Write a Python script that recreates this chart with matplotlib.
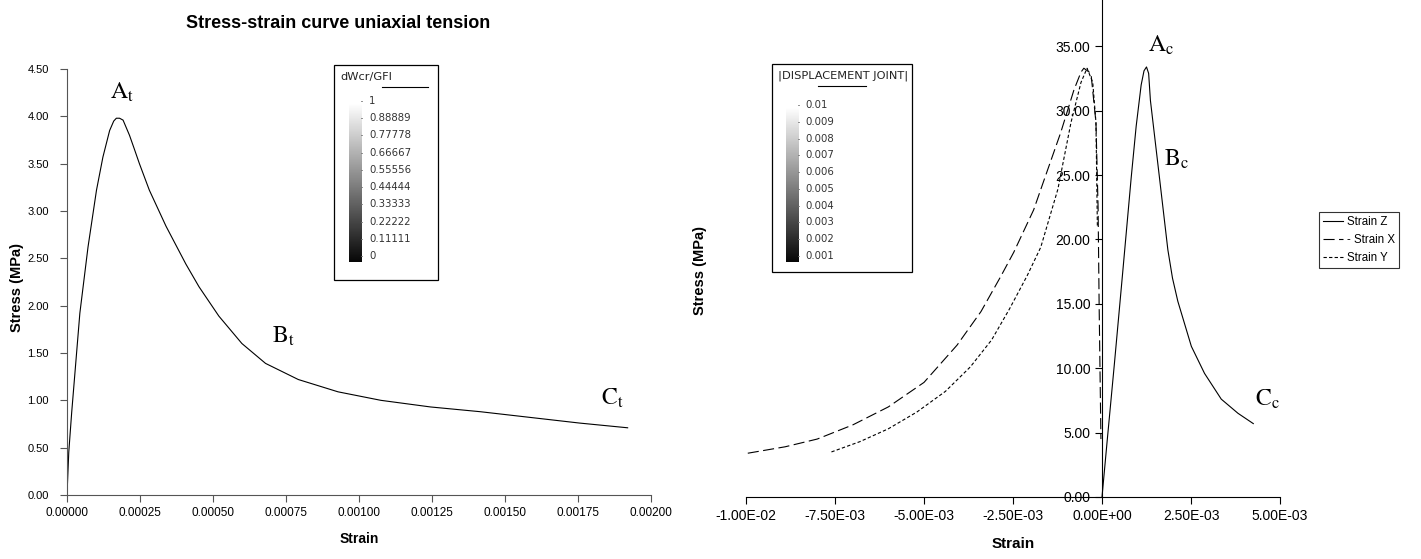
import matplotlib
matplotlib.use('Agg')
import matplotlib.pyplot as plt
import numpy as np
from matplotlib.ticker import FuncFormatter, MultipleLocator

plt.rcParams['font.family'] = ['Liberation Sans', 'DejaVu Sans']
plt.rcParams['mathtext.fontset'] = 'stix'

# ---- data ----
# uniaxial tension
tens_strain = [0.0, 6e-6, 1.6e-5, 4.4e-5, 7.2e-5, 1.01e-4, 1.23e-4, 1.46e-4, 1.60e-4, 1.69e-4,
               1.80e-4, 1.92e-4, 2.14e-4, 2.30e-4, 2.48e-4, 2.82e-4, 3.39e-4, 4.07e-4, 4.52e-4,
               5.2e-4, 5.99e-4, 6.8e-4, 7.92e-4, 9.28e-4, 1.075e-3, 1.245e-3, 1.415e-3,
               1.585e-3, 1.755e-3, 1.92e-3]
tens_stress = [0.0, 0.45, 0.87, 1.92, 2.62, 3.22, 3.57, 3.85, 3.95, 3.98,
               3.98, 3.96, 3.80, 3.66, 3.50, 3.22, 2.84, 2.44, 2.20,
               1.89, 1.60, 1.39, 1.22, 1.09, 1.00, 0.93, 0.88,
               0.82, 0.76, 0.71]

# compression, strain Z
z_strain = [0.0, 1.5e-4, 3.5e-4, 5.8e-4, 8.2e-4, 9.6e-4, 1.1e-3, 1.18e-3, 1.25e-3, 1.31e-3,
            1.36e-3, 1.61e-3, 1.85e-3, 1.98e-3, 2.13e-3, 2.51e-3, 2.88e-3, 3.35e-3, 3.82e-3,
            4.25e-3]
z_stress = [0.0, 4.5, 10.4, 17.4, 24.8, 28.8, 32.0, 33.1, 33.4, 32.9,
            30.8, 24.9, 19.2, 17.0, 15.2, 11.7, 9.6, 7.6, 6.5,
            5.7]

# compression, strain X
x_strain = [-9.95e-3, -8.9e-3, -8.0e-3, -7.0e-3, -6.0e-3, -5.0e-3, -4.07e-3, -3.4e-3,
            -2.85e-3, -2.48e-3, -1.92e-3, -1.63e-3, -1.16e-3, -7.9e-4, -5.9e-4, -5.1e-4,
            -3.1e-4, -1.7e-4, -1.1e-4, -8e-5, -3e-5]
x_stress = [3.4, 3.9, 4.5, 5.6, 7.0, 8.9, 11.8, 14.4,
            17.1, 19.0, 22.3, 24.6, 28.3, 31.6, 33.0, 33.3,
            32.9, 29.1, 22.5, 14.8, 4.5]

# compression, strain Y
y_strain = [-7.6e-3, -6.8e-3, -6.0e-3, -5.2e-3, -4.4e-3, -3.7e-3, -3.1e-3, -2.6e-3,
            -2.1e-3, -1.72e-3, -1.24e-3, -8.7e-4, -5.9e-4, -4.2e-4, -2.6e-4, -1.7e-4,
            -1.3e-4]
y_stress = [3.5, 4.3, 5.3, 6.6, 8.2, 10.1, 12.2, 14.6,
            17.2, 19.4, 23.9, 29.1, 32.2, 33.3, 32.2, 29.1,
            21.0]

damage_labels = ['1', '0.88889', '0.77778', '0.66667', '0.55556', '0.44444',
                 '0.33333', '0.22222', '0.11111', '0']
disp_labels = ['0.01', '0.009', '0.008', '0.007', '0.006', '0.005',
               '0.004', '0.003', '0.002', '0.001']

W, H = 1421, 559
fig = plt.figure(figsize=(W / 100, H / 100), dpi=100)


def fbox(x0, y0, x1, y1):
    # pixel box (top-left origin) -> figure fraction rect
    return [x0 / W, 1 - y1 / H, (x1 - x0) / W, (y1 - y0) / H]


# ---- left chart ----
ax1 = fig.add_axes(fbox(67, 69, 651, 495))
ax1.plot(tens_strain, tens_stress, color='black', lw=0.8)
ax1.set_xlim(0, 0.002)
ax1.set_ylim(0, 4.5)
ax1.xaxis.set_major_locator(MultipleLocator(0.00025))
ax1.yaxis.set_major_locator(MultipleLocator(0.5))
ax1.xaxis.set_major_formatter(FuncFormatter(lambda v, p: f'{v:.5f}'))
ax1.yaxis.set_major_formatter(FuncFormatter(lambda v, p: f'{v:.2f}'))
for s in ['top', 'right']:
    ax1.spines[s].set_visible(False)
for s in ['left', 'bottom']:
    ax1.spines[s].set_color('#555555')
ax1.tick_params(axis='x', labelsize=8.5, length=5, width=0.8, color='#555555', pad=4)
ax1.tick_params(axis='y', labelsize=8, length=5, width=0.8, color='#555555', pad=8)
ax1.set_xlabel('Strain', fontsize=10, fontweight='bold', labelpad=9)
fig.text(17 / W, 1 - 287 / H, 'Stress (MPa)', rotation=90, ha='center', va='center',
         fontsize=10.5, fontweight='bold')
fig.text(338 / W, 1 - 24 / H, 'Stress-strain curve uniaxial tension', ha='center', va='center',
         fontsize=13, fontweight='bold')

ax1.text(1.87e-4, 4.25, r'$\mathrm{A_t}$', fontsize=17, ha='center', va='center')
ax1.text(7.41e-4, 1.68, r'$\mathrm{B_t}$', fontsize=17, ha='center', va='center')
ax1.text(1.867e-3, 1.02, r'$\mathrm{C_t}$', fontsize=17, ha='center', va='center')

# ---- right chart ----
ax2 = fig.add_axes(fbox(746, 0, 1280, 497))
ax2.plot(z_strain, z_stress, color='black', lw=0.8, label='Strain Z')
ax2.plot(x_strain, x_stress, color='black', lw=0.8, linestyle=(0, (10, 4)), label='- Strain X')
ax2.plot(y_strain, y_stress, color='black', lw=0.8, linestyle=(0, (3, 2)), label='Strain Y')
ax2.set_xlim(-0.01, 0.005)
ax2.set_ylim(0, 38.6)
ax2.xaxis.set_major_locator(MultipleLocator(0.0025))
ax2.yaxis.set_major_locator(MultipleLocator(5))
ax2.xaxis.set_major_formatter(FuncFormatter(lambda v, p: f'{v:.2E}'))
ax2.yaxis.set_major_formatter(FuncFormatter(lambda v, p: f'{v:.2f}'))
ax2.spines['left'].set_position(('data', 0))
for s in ['top', 'right']:
    ax2.spines[s].set_visible(False)
ax2.tick_params(labelsize=10, length=5, width=0.8, pad=3.5)
ax2.set_xlabel('Strain', fontsize=11, fontweight='bold', labelpad=10)
fig.text(700 / W, 1 - 270 / H, 'Stress (MPa)', rotation=90, ha='center', va='center',
         fontsize=10.5, fontweight='bold')

ax2.text(1.66e-3, 35.1, r'$\mathrm{A_c}$', fontsize=17, ha='center', va='center')
ax2.text(2.09e-3, 26.2, r'$\mathrm{B_c}$', fontsize=17, ha='center', va='center')
ax2.text(4.65e-3, 7.6, r'$\mathrm{C_c}$', fontsize=17, ha='center', va='center')

leg = ax2.legend(loc='center left', bbox_to_anchor=(1319 / W, 1 - 240 / H),
                 bbox_transform=fig.transFigure, fontsize=8.3, frameon=True, fancybox=False,
                 handlelength=1.7, handletextpad=0.4, borderpad=0.35, labelspacing=0.55,
                 borderaxespad=0)
leg.get_frame().set_edgecolor('black')
leg.get_frame().set_linewidth(0.8)

# ---- contour legend boxes (overlay in pixel units) ----
ov = fig.add_axes([0, 0, 1, 1], zorder=5)
ov.axis('off')
ov.patch.set_alpha(0)

grad = np.linspace(1, 0, 256)[:, None]


def contour_box(x0, y0, x1, y1, title, ux0, ux1, bx0, bx1, by0, by1, labels, lx):
    ov.add_patch(plt.Rectangle((x0, y0), x1 - x0, y1 - y0, facecolor='white',
                               edgecolor='black', lw=0.9))
    ov.text(x0 + 6, y0 + 12, title, fontsize=8.2, family='DejaVu Sans', va='center',
            ha='left', color='#222222')
    ov.plot([ux0, ux1], [y0 + 22, y0 + 22], color='black', lw=0.8)
    ov.imshow(grad, cmap='gray', extent=(bx0, bx1, by1, by0), aspect='auto', zorder=6,
              vmin=-0.03, vmax=1.0, origin='upper')
    n = len(labels)
    step = (by1 - by0 - 4) / (n - 1)
    for i, lab in enumerate(labels):
        yy = by0 - 2 + i * step
        ov.text(lx, yy, lab, fontsize=7.3, family='DejaVu Sans', va='center', ha='left',
                color='#333333', zorder=7)
        ov.plot([bx1 - 1, bx1], [yy, yy], color='#777777', lw=0.6, zorder=7)
    ov.set_xlim(0, W)
    ov.set_ylim(H, 0)


contour_box(334, 65, 438, 280, 'dWcr/GFI', 382, 428, 349, 362, 103, 262, damage_labels, 369)
contour_box(772, 64, 912, 272, '|DISPLACEMENT JOINT|', 818, 866, 786, 799, 107, 262,
            disp_labels, 805)

fig.savefig('out.png', dpi=100)
